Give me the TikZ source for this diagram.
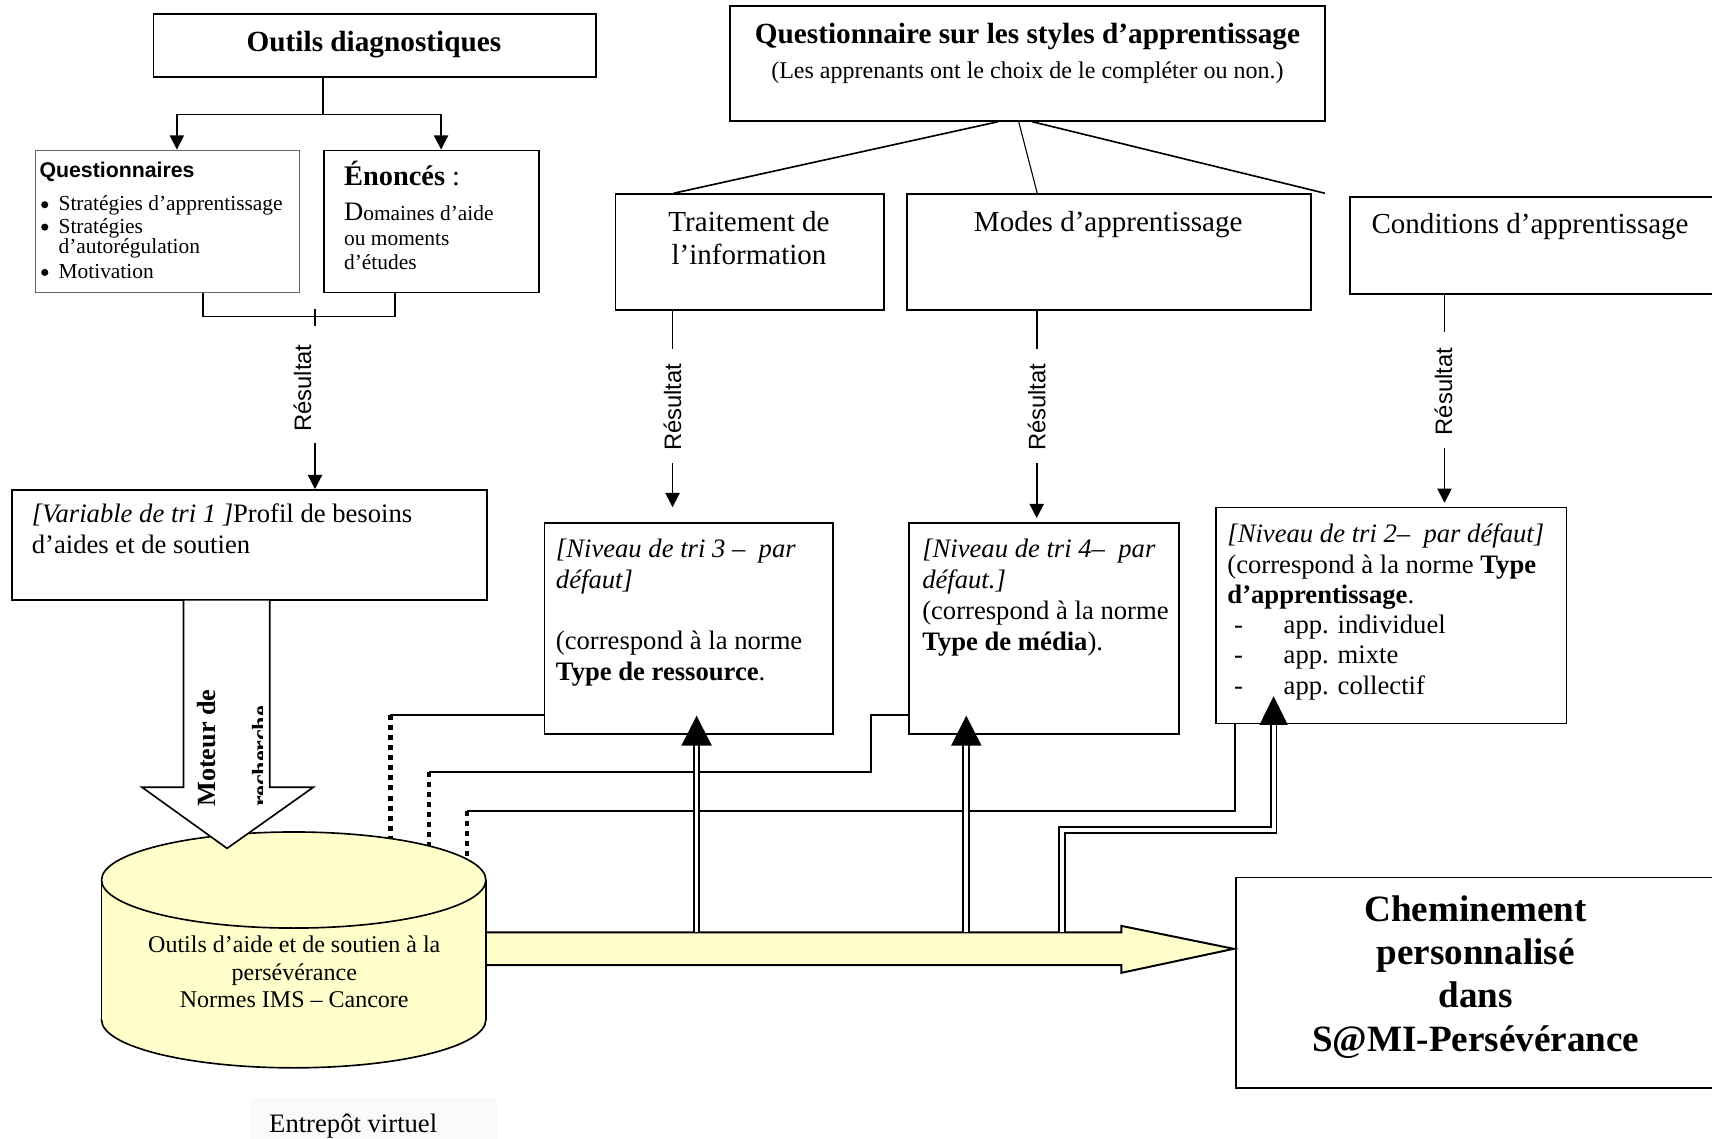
\documentclass[tikz,border=0pt]{standalone}
\usepackage{fontspec}
\setmainfont{Liberation Serif}
\setsansfont{Liberation Sans}
\usetikzlibrary{arrows.meta,calc}
\definecolor{yel}{HTML}{FFFFCC}
\newcommand\myfs[1]{\fontsize{#1}{#1}\selectfont}
\begin{document}
\begin{tikzpicture}[x=1pt,y=-1pt,
  bx/.style={draw,line width=1.5pt,rectangle,inner sep=0pt,anchor=north west,fill=white},
  tx/.style={inner sep=0pt,anchor=base west},
  txc/.style={inner sep=0pt,anchor=base},
  ln/.style={line width=1.5pt},
  arr/.style={line width=1.5pt,-{Triangle[length=13pt,width=13pt]}},
  dots/.style={line width=4pt,dash pattern=on 4.6pt off 4.6pt},
  dbl/.style={line width=1.8pt,double distance=3.4pt,double=white},
  res/.style={inner sep=0pt,rotate=90,font=\sffamily\myfs{21.8}},
  bul/.style={circle,fill=black,inner sep=0pt,minimum size=6.5pt},
]
\path[use as bounding box] (0,0) rectangle (1568,1043);
\clip (0,0) rectangle (1568,1043);
\fill[black!2] (230,1006) rectangle (455,1043);

% ---------- boxes ----------
\node[bx,minimum width=405pt,minimum height=58pt] (od) at (140,12) {};
\node[txc,font=\bfseries\myfs{26.8}] (odt) at (342.5,47.5) {Outils diagnostiques};

\node[bx,minimum width=545pt,minimum height=105pt] (qs) at (668,5) {};
\node[txc,font=\bfseries\myfs{26.8}] (qst) at (941,40) {Questionnaire sur les styles d’apprentissage};
\node[txc,font=\myfs{22}] (qss) at (941,72) {(Les apprenants ont le choix de le compléter ou non.)};

\node[bx,draw=black!60,line width=1pt,minimum width=242pt,minimum height=130pt] (quest) at (32,137) {};
\node[tx,font=\sffamily\bfseries\myfs{19.5}] (qt) at (36,163) {Questionnaires};
\node[bul] (b1) at (41,187.5) {};
\node[tx,font=\myfs{19.6}] (q1) at (53.5,193) {Stratégies d’apprentissage};
\node[bul] (b2) at (41,208) {};
\node[tx,font=\myfs{19.6}] (q2) at (53.5,213.5) {Stratégies};
\node[tx,font=\myfs{19.6}] (q3) at (53.5,232) {d’autorégulation};
\node[bul] (b3) at (41,249.5) {};
\node[tx,font=\myfs{19.6}] (q4) at (53.5,255) {Motivation};

\node[bx,minimum width=197pt,minimum height=130pt] (enon) at (296,137) {};
\node[tx] (et1) at (315,169.5) {\myfs{26}\textbf{Énoncés} :};
\node[tx] (et2) at (315,201.5) {\myfs{24.4}D\myfs{19.6}omaines d’aide};
\node[tx,font=\myfs{19.6}] (et3) at (315,224.5) {ou moments};
\node[tx,font=\myfs{19.6}] (et4) at (315,247) {d’études};

\node[bx,minimum width=246pt,minimum height=106pt] (ti) at (563,177) {};
\node[txc,font=\myfs{26.6}] (tit1) at (686,212) {Traitement de};
\node[txc,font=\myfs{26.6}] (tit2) at (686,242) {l’information};

\node[bx,minimum width=370pt,minimum height=106pt] (md) at (830,177) {};
\node[txc,font=\myfs{26.6}] (mdt) at (1015,212) {Modes d’apprentissage};

\node[bx,minimum width=400pt,minimum height=89pt] (cd) at (1235.5,179.5) {};
\node[tx,font=\myfs{26.6}] (cdt) at (1256,213.5) {Conditions d’apprentissage};

\node[bx,minimum width=435pt,minimum height=101pt] (var) at (10,448) {};
\node[tx,font=\myfs{24.4}] (vt1) at (29,479) {\textit{[Variable de tri 1 ]}Profil de besoins};
\node[tx,font=\myfs{24.4}] (vt2) at (29,507) {d’aides et de soutien};

\node[bx,minimum width=264pt,minimum height=193pt] (n3) at (498,478.5) {};
\node[tx,font=\myfs{24.4}] (n3a) at (509,511) {\textit{[Niveau de tri 3 –\ \ par}};
\node[tx,font=\myfs{24.4}] (n3b) at (509,539) {\textit{défaut]}};
\node[tx,font=\myfs{24.4}] (n3c) at (509,595) {(correspond à la norme};
\node[tx,font=\myfs{24.4}] (n3d) at (509,623) {\textbf{Type de ressource}.};

\node[bx,minimum width=247pt,minimum height=193pt] (n4) at (832,478.5) {};
\node[tx,font=\myfs{24.4}] (n4a) at (844.5,511) {\textit{[Niveau de tri 4–\ \ par}};
\node[tx,font=\myfs{24.4}] (n4b) at (844.5,539) {\textit{défaut.]}};
\node[tx,font=\myfs{24.4}] (n4c) at (844.5,567.5) {(correspond à la norme};
\node[tx,font=\myfs{24.4}] (n4d) at (844.5,595.5) {\textbf{Type de média}).};

\node[bx,minimum width=321pt,minimum height=198pt] (n2) at (1113,464) {};
\node[tx,font=\myfs{24.4}] (n2a) at (1124,497) {\textit{[Niveau de tri 2–\ \ par défaut]}};
\node[tx,font=\myfs{24.4}] (n2b) at (1124,525) {(correspond à la norme \textbf{Type}};
\node[tx,font=\myfs{24.4}] (n2c) at (1124,552.5) {\textbf{d’apprentissage}.};
\node[tx,font=\myfs{24.4}] (n2d1) at (1130,580) {-};
\node[tx,font=\myfs{24.4}] (n2e1) at (1175.5,580) {app. individuel};
\node[tx,font=\myfs{24.4}] (n2d2) at (1130,608) {-};
\node[tx,font=\myfs{24.4}] (n2e2) at (1175.5,608) {app. mixte};
\node[tx,font=\myfs{24.4}] (n2d3) at (1130,636) {-};
\node[tx,font=\myfs{24.4}] (n2e3) at (1175.5,636) {app. collectif};

\node[bx,minimum width=500pt,minimum height=193pt] (chem) at (1131,803) {};
\node[txc,font=\bfseries\myfs{34}] (ch1) at (1351.5,844) {Cheminement};
\node[txc,font=\bfseries\myfs{34}] (ch2) at (1351.5,883.5) {personnalisé};
\node[txc,font=\bfseries\myfs{34}] (ch3) at (1351.5,923) {dans};
\node[txc,font=\bfseries\myfs{34}] (ch4) at (1351.5,963) {S@MI-Persévérance};

% ---------- thin connectors ----------
\coordinate (j1) at (296,105);
\draw[ln] (od.south -| j1) -- (j1);
\draw[arr] (j1) -| ([xshift=130pt]quest.north west);
\draw[arr] (j1) -| ([xshift=108pt]enon.north west);

\coordinate (brk) at (288.5,290);
\draw[ln] ([xshift=154pt]quest.south west) |- (brk) -| ([xshift=66pt]enon.south west);
\draw[ln] ([yshift=7pt]brk) -- ([yshift=-9pt]brk);
\node[res] (r1) at (277,355.5) {Résultat};
\coordinate (r1b) at (288.5,406);
\draw[arr] (r1b) -- (var.north -| r1b);

\coordinate (qe) at (1213.5,177);
\draw[ln] ([xshift=246pt]qs.south west) -- ([xshift=54pt]ti.north west);
\draw[line width=1pt] ([xshift=265pt]qs.south west) -- ([xshift=120pt]md.north west);
\draw[ln] ([xshift=277.5pt]qs.south west) -- (qe);

\draw[ln] ([xshift=53pt]ti.south west) -- ++(0,35);
\node[res] (r2) at (616,373) {Résultat};
\coordinate (r2b) at (616,424); \coordinate (r2e) at (616,464.5);
\draw[arr] (r2b) -- (r2e);

\draw[ln] ([xshift=119.5pt]md.south west) -- ++(0,35);
\node[res] (r3) at (949.5,373) {Résultat};
\coordinate (r3b) at (949.5,424); \coordinate (r3e) at (949.5,474.5);
\draw[arr] (r3b) -- (r3e);

\draw[ln] ([xshift=87.5pt]cd.south west) -- ++(0,34);
\node[res] (r4) at (1322,358.7) {Résultat};
\coordinate (r4b) at (1323,410); \coordinate (r4e) at (1323,460.5);
\draw[arr] (r4b) -- (r4e);

% connectors to the repository (solid then dotted)
\coordinate (d1) at (357.5,655); \coordinate (d1e) at (357.5,790);
\draw[ln] (n3.west |- d1) -- (d1);
\draw[dots] (d1) -- (d1e);
\coordinate (k2) at (797.5,655);
\coordinate (d2) at (393,707); \coordinate (d2e) at (393,800);
\draw[ln] (n4.west |- k2) -- (k2) |- (d2);
\draw[dots] (d2) -- (d2e);
\coordinate (d3) at (428,743); \coordinate (d3e) at (428,812);
\draw[ln] ([xshift=18pt]n2.south west) |- (d3);
\draw[dots] (d3) -- (d3e);

% ---------- big yellow arrow ----------
\filldraw[fill=yel,line width=1.8pt,line join=miter]
  (440,854) -- (1027,854) -- (1027,848) -- (1130,869) -- (1027,891) -- (1027,884) -- (440,884) -- cycle;

% ---------- cylinder ----------
\filldraw[fill=yel,line width=1.5pt] (269,934) ellipse [x radius=176, y radius=44];
\fill[yel] (93,806) rectangle (445,934);
\draw[line width=1.5pt] (93,806) -- (93,934) (445,806) -- (445,934);
\filldraw[fill=yel,line width=1.5pt] (269,806) ellipse [x radius=176, y radius=44];
\node[txc,font=\myfs{22}] (cy1) at (269.5,872.5) {Outils d’aide et de soutien à la};
\node[txc,font=\myfs{22}] (cy2) at (269.5,898) {persévérance};
\node[txc,font=\myfs{22}] (cy3) at (269.5,922.5) {Normes IMS – Cancore};
\node[txc,font=\myfs{24.4}] (ent) at (323.5,1037) {Entrepôt virtuel};

% ---------- search engine arrow ----------
\fill[white] (168,550) -- (168,721) -- (130,721) -- (208,777) -- (287,721) -- (247,721) -- (247,550) -- cycle;
\draw[line width=1.5pt,line join=miter] (168,549) -- (168,721) -- (130,721) -- (208,777) -- (287,721) -- (247,721) -- (247,549);
\node[tx,rotate=90,font=\bfseries\myfs{24}] (mot1) at (197,739) {Moteur de};
\begin{scope}
  \clip (200,600) rectangle (240,760);
  \node[tx,rotate=90,font=\bfseries\myfs{22}] (mot2) at (246,739) {recherche};
\end{scope}

% ---------- double arrows ----------
\coordinate (s3) at (638,854); \coordinate (h3) at (638,655.5);
\draw[dbl] (s3) -- ([yshift=-27pt]h3);
\fill (h3) -- ++(-14,27.5) -- ++(28,0) -- cycle;
\coordinate (s4) at (885,854); \coordinate (h4) at (885,655.5);
\draw[dbl] (s4) -- ([yshift=-27pt]h4);
\fill (h4) -- ++(-14,27.5) -- ++(28,0) -- cycle;
\coordinate (s2) at (972.5,854); \coordinate (m2) at (1166.5,760); \coordinate (h2) at (1166.5,637.5);
\draw[dbl] (s2) |- (m2) -- ([yshift=-26pt]h2);
\fill (h2) -- ++(-13,26.5) -- ++(26,0) -- cycle;
\end{tikzpicture}
\end{document}
